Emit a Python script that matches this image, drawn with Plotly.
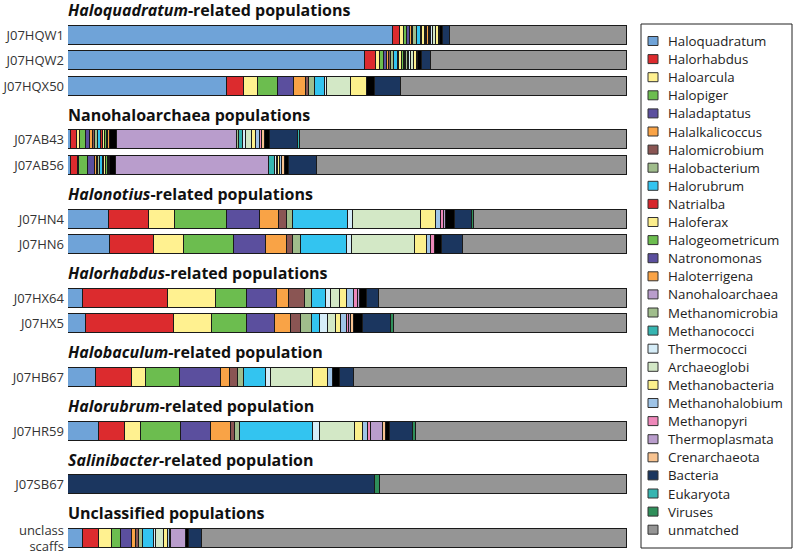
import plotly.graph_objects as go

# ---------------- data ----------------
taxa = ["Haloquadratum", "Halorhabdus", "Haloarcula", "Halopiger", "Haladaptatus",
        "Halalkalicoccus", "Halomicrobium", "Halobacterium", "Halorubrum", "Natrialba",
        "Haloferax", "Halogeometricum", "Natronomonas", "Haloterrigena", "minor_a",
        "Nanohaloarchaea", "Methanomicrobia", "Methanococci", "Thermococci", "Archaeoglobi",
        "Methanobacteria", "Methanohalobium", "Methanopyri", "Thermoplasmata", "Crenarchaeota",
        "minor_b", "Bacteria", "Eukaryota", "Viruses", "unmatched"]

J07HQW1 = [58.2, 1.2, 0.7, 0.5, 0.5, 0.4, 0.3, 0.6, 0.7, 0.2, 0.5, 0.3, 0.2, 0.2, 0, 0, 0.3, 0.2, 0.3, 0.5, 0.5, 0.3, 0, 0, 0, 0.5, 1.3, 0, 0, 31.6]
J07HQW2 = [53.1, 2.0, 0.7, 0.7, 0.5, 0.4, 0.3, 0.6, 0.8, 0.2, 0.5, 0.3, 0.2, 0.2, 0, 0, 0.3, 0.2, 0.3, 0.6, 0.5, 0.3, 0, 0, 0, 0.6, 1.6, 0, 0, 35.1]
J07HQX50 = [28.4, 3.1, 2.4, 3.7, 2.9, 2.0, 0.6, 1.1, 1.7, 0, 0, 0, 0, 0, 0, 0, 0, 0, 0.5, 4.2, 2.8, 0, 0, 0, 0, 1.6, 4.6, 0, 0, 40.4]
J07AB43 = [0.5, 1.1, 0.6, 1.0, 0.8, 0.5, 0.3, 0.5, 0.6, 0.3, 0.4, 0.3, 0.3, 0.3, 1.2, 21.6, 0.3, 0.7, 0.6, 1.0, 0.8, 0.7, 0.3, 0, 0.5, 1.0, 5.0, 0.3, 0, 58.5]
J07AB56 = [0.5, 1.2, 0.3, 1.5, 1.4, 0.3, 0.2, 0.3, 0.5, 0.3, 0.3, 0.3, 0.2, 0.2, 1.1, 27.4, 0, 1.0, 0.3, 0.3, 0.4, 0.3, 0, 0, 0.5, 0.7, 5.0, 0, 0, 55.5]
J07HN4 = [7.3, 7.2, 4.7, 9.3, 5.8, 3.5, 1.3, 1.2, 9.7, 0, 0, 0, 0, 0, 0, 0, 0, 0, 0.9, 12.3, 2.6, 0.9, 0.5, 0.4, 0, 1.7, 2.9, 0, 0.5, 27.3]
J07HN6 = [7.5, 7.8, 5.5, 8.9, 5.8, 3.7, 1.0, 1.5, 8.2, 0, 0, 0, 0, 0, 0, 0, 0, 0, 0.9, 11.2, 2.3, 0.7, 0.6, 0, 0, 1.3, 3.8, 0, 0, 29.3]
J07HX64 = [2.7, 15.2, 8.5, 5.6, 5.3, 2.3, 2.8, 1.2, 2.6, 0, 0, 0, 0, 0, 0, 0, 0, 0, 0.9, 1.6, 1.2, 1.2, 0.7, 0.4, 0, 1.2, 2.3, 0, 0, 44.3]
J07HX5 = [3.3, 15.7, 6.7, 6.4, 5.0, 2.8, 1.8, 2.0, 1.3, 0, 0, 0, 0, 0, 0, 0, 0, 0, 1.5, 1.5, 0.9, 1.0, 0.4, 0.3, 0.6, 1.5, 5.1, 0, 0.5, 41.7]
J07HB67 = [5.0, 6.4, 2.6, 6.0, 7.3, 1.6, 1.5, 1.1, 4.0, 0, 0, 0, 0, 0, 0, 0, 0, 0, 0.9, 7.5, 2.7, 0.8, 0, 0, 0, 1.2, 2.6, 0, 0, 48.8]
J07HR59 = [5.5, 4.7, 2.8, 7.3, 5.3, 3.6, 0.7, 0.9, 13.1, 0, 0, 0, 0, 0, 0, 0, 0, 0, 1.2, 6.2, 1.5, 0.9, 0.5, 2.2, 0.5, 0.7, 4.2, 0, 0.4, 37.8]
J07SB67 = [0, 0, 0, 0, 0, 0, 0, 0, 0, 0, 0, 0, 0, 0, 0, 0, 0, 0, 0, 0, 0, 0, 0, 0, 0, 0, 54.9, 0, 0.9, 44.2]
unclass_scaffs = [2.7, 2.8, 2.3, 1.7, 2.0, 0.7, 0.5, 0.7, 1.9, 0, 0, 0, 0, 0, 0, 0, 0, 0, 0.5, 1.3, 0.7, 0.4, 0.3, 2.6, 0, 0.6, 2.3, 0, 0, 76.0]

groups = [
    ("<b><i>Haloquadratum</i>-related populations</b>", [("J07HQW1", J07HQW1), ("J07HQW2", J07HQW2), ("J07HQX50", J07HQX50)]),
    ("<b>Nanohaloarchaea populations</b>", [("J07AB43", J07AB43), ("J07AB56", J07AB56)]),
    ("<b><i>Halonotius</i>-related populations</b>", [("J07HN4", J07HN4), ("J07HN6", J07HN6)]),
    ("<b><i>Halorhabdus</i>-related populations</b>", [("J07HX64", J07HX64), ("J07HX5", J07HX5)]),
    ("<b><i>Halobaculum</i>-related population</b>", [("J07HB67", J07HB67)]),
    ("<b><i>Halorubrum</i>-related population</b>", [("J07HR59", J07HR59)]),
    ("<b><i>Salinibacter</i>-related population</b>", [("J07SB67", J07SB67)]),
    ("<b>Unclassified populations</b>", [("unclass<br>scaffs", unclass_scaffs)]),
]

# ---------------- styles ----------------
colors = {
    "Haloquadratum": "#6fa3d8", "Halorhabdus": "#dc2b2e", "Haloarcula": "#fff190",
    "Halopiger": "#6cbd4f", "Haladaptatus": "#5b4f9e", "Halalkalicoccus": "#f9a346",
    "Halomicrobium": "#8a5553", "Halobacterium": "#a0bd8c", "Halorubrum": "#33c4f0",
    "Natrialba": "#d7262c", "Haloferax": "#fcee8c", "Halogeometricum": "#6cbd4f",
    "Natronomonas": "#5b4f9e", "Haloterrigena": "#f9a346", "minor_a": "#000000",
    "Nanohaloarchaea": "#b99dcc", "Methanomicrobia": "#a0bd8c", "Methanococci": "#36b5b1",
    "Thermococci": "#d6edf8", "Archaeoglobi": "#d3e8c6", "Methanobacteria": "#fcf08c",
    "Methanohalobium": "#9fc4e7", "Methanopyri": "#ee88ba", "Thermoplasmata": "#b99dcc",
    "Crenarchaeota": "#f8c390", "minor_b": "#000000", "Bacteria": "#1b365f",
    "Eukaryota": "#36b5b1", "Viruses": "#2f8f5a", "unmatched": "#959595",
}

W, H = 796, 557
L, R = 68, 627
FONT = "Open Sans"

# vertical layout (pixel units on a reversed y axis)
y_bars, tick_text, titles = [], [], []
y = 10.0
for gi, (title, members) in enumerate(groups):
    if gi > 0:
        y += 28.6
    titles.append((title, y))
    y += 25.1
    for mi, (name, vals) in enumerate(members):
        if mi > 0:
            y += 25.5
        y_bars.append(y)
        tick_text.append(name)

samples = [vals for _, members in groups for _, vals in members]

fig = go.Figure()
for ti, taxon in enumerate(taxa):
    xs = [s[ti] if s[ti] > 0 else None for s in samples]
    fig.add_trace(go.Bar(
        x=xs, y=y_bars, orientation="h", width=19,
        marker=dict(color=colors[taxon], line=dict(color="#1a1a1a", width=1.4)),
        name=taxon, showlegend=False, hoverinfo="name+x",
    ))

for title, ty in titles:
    fig.add_annotation(x=0, xref="paper", y=ty, yref="y", text=title, showarrow=False,
                       xanchor="left", yanchor="middle", xshift=-2,
                       font=dict(family=FONT, size=16, color="#111"))

# manual legend
legend_taxa = [t for t in taxa if not t.startswith("minor")]
def px_x(px):
    return (px - L) / (R - L)
def px_y(py):
    return 1 - py / H

fig.add_shape(type="rect", xref="paper", yref="paper",
              x0=px_x(641), x1=px_x(792), y0=px_y(24), y1=px_y(548),
              line=dict(color="#222", width=1), fillcolor="white")
for i, t in enumerate(legend_taxa):
    cy = 41 + i * 18.1
    fig.add_shape(type="rect", xref="paper", yref="paper",
                  x0=px_x(648), x1=px_x(658), y0=px_y(cy - 4.5), y1=px_y(cy + 4.5),
                  line=dict(color="#333", width=1), fillcolor=colors[t])
    fig.add_annotation(x=px_x(666), xref="paper", y=px_y(cy), yref="paper", text=t,
                       showarrow=False, xanchor="left", yanchor="middle",
                       font=dict(family=FONT, size=13.3, color="#222"))

fig.update_layout(
    width=W, height=H, barmode="stack", plot_bgcolor="white", paper_bgcolor="white",
    margin=dict(l=L, r=W - R, t=0, b=0), bargap=0,
    xaxis=dict(range=[0, 100], visible=False, fixedrange=True),
    yaxis=dict(range=[H, 0], tickvals=y_bars, ticktext=tick_text, showgrid=False,
               zeroline=False, showline=False, ticks="", ticklabelstandoff=3,
               tickfont=dict(family=FONT, size=13, color="#333")),
    showlegend=False,
)

fig.write_html("out.html", config={"displayModeBar": False},
               post_script="document.body.style.margin='0';")
